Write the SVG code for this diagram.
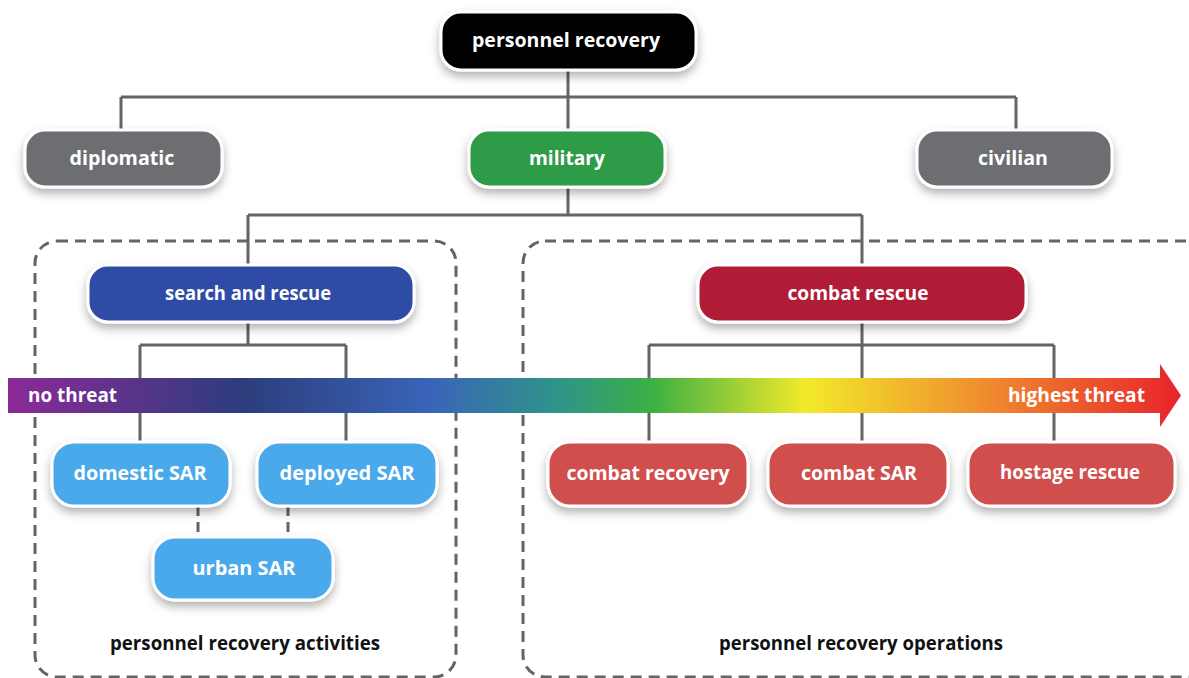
<svg xmlns="http://www.w3.org/2000/svg" width="1189" height="678" viewBox="0 0 1189 678">
  <defs>
    <filter id="shadow" x="-20%" y="-30%" width="140%" height="180%">
      <feDropShadow dx="0" dy="5" stdDeviation="5" flood-color="#000" flood-opacity="0.3"/>
    </filter>
    <linearGradient id="threat" x1="8" y1="0" x2="1180" y2="0" gradientUnits="userSpaceOnUse">
      <stop offset="0" stop-color="#8c2a98"/>
      <stop offset="0.2" stop-color="#2c3d7c"/>
      <stop offset="0.36" stop-color="#3a64b8"/>
      <stop offset="0.47" stop-color="#2f948a"/>
      <stop offset="0.55" stop-color="#3cb043"/>
      <stop offset="0.68" stop-color="#f2ea2a"/>
      <stop offset="0.82" stop-color="#f0952e"/>
      <stop offset="1" stop-color="#e8232b"/>
    </linearGradient>
    <style>
      .node rect { stroke: #fff; stroke-width: 3; filter: url(#shadow); }
      .node text { font-family: "Open Sans", "Liberation Sans", sans-serif; font-weight: bold; font-size: 20px; fill: #fff; text-anchor: middle; }
      .conn { fill: none; stroke: #636466; stroke-width: 3; }
      .dash { fill: none; stroke: #636466; stroke-width: 3; stroke-dasharray: 10 6; }
      .area { fill: none; stroke: #636466; stroke-width: 3; stroke-dasharray: 11 7; }
      .caption { font-family: "Open Sans", "Liberation Sans", sans-serif; font-weight: bold; font-size: 20px; fill: #111; text-anchor: middle; }
      .threat { font-family: "Open Sans", "Liberation Sans", sans-serif; font-weight: bold; font-size: 19px; fill: #fff; }
      .gray { fill: #6d6e71; }
      .navy { fill: #2e4ba6; }
      .crimson { fill: #b01b34; }
      .sky { fill: #4aa9ea; }
      .coral { fill: #d0504e; }
    </style>
  </defs>

  <rect width="1189" height="678" fill="#fff"/>

  <!-- grouping areas -->
  <g id="areas">
    <rect class="area" x="35" y="241" width="421" height="436" rx="22"/>
    <rect class="area" x="523" y="241" width="690" height="436" rx="22"/>
    <text class="caption" x="245" y="650" textLength="270" lengthAdjust="spacingAndGlyphs">personnel recovery activities</text>
    <text class="caption" x="861" y="650" textLength="284" lengthAdjust="spacingAndGlyphs">personnel recovery operations</text>
  </g>

  <!-- connectors -->
  <g id="connectors">
    <path class="conn" d="M568 70 V97 M121 97 H1016 M121 97 V130 M568 97 V130 M1016 97 V130"/>
    <path class="conn" d="M568 187 V215 M248 215 H862 M248 215 V265 M862 215 V265"/>
    <path class="conn" d="M248 322 V345 M140 345 H346 M140 345 V442 M346 345 V442"/>
    <path class="conn" d="M862 322 V345 M649 345 H1054 M649 345 V442 M862 345 V442 M1054 345 V442"/>
    <path class="dash" d="M198 506 V537 M288 506 V537"/>
  </g>

  <!-- threat scale -->
  <g id="threat-scale">
    <path d="M8 378 H1160 V364 L1181 395.5 L1160 427 V413 H8 Z" fill="url(#threat)"/>
    <text class="threat" x="28" y="402" textLength="89" lengthAdjust="spacingAndGlyphs">no threat</text>
    <text class="threat" x="1008" y="402" textLength="137" lengthAdjust="spacingAndGlyphs">highest threat</text>
  </g>

  <g id="personnel-recovery" class="node">
    <rect x="441" y="12" width="255" height="58" rx="20" fill="#000"/>
    <text x="566" y="47" textLength="188" lengthAdjust="spacingAndGlyphs">personnel recovery</text>
  </g>
  <g id="diplomatic" class="node">
    <rect class="gray" x="25" y="130" width="197" height="57" rx="20"/>
    <text x="122" y="165" textLength="105" lengthAdjust="spacingAndGlyphs">diplomatic</text>
  </g>
  <g id="military" class="node">
    <rect x="469" y="130" width="196" height="57" rx="20" fill="#2e9b4a"/>
    <text x="567" y="165" textLength="76" lengthAdjust="spacingAndGlyphs">military</text>
  </g>
  <g id="civilian" class="node">
    <rect class="gray" x="917" y="130" width="195" height="57" rx="20"/>
    <text x="1013" y="165" textLength="70" lengthAdjust="spacingAndGlyphs">civilian</text>
  </g>
  <g id="search-and-rescue" class="node">
    <rect class="navy" x="88" y="265" width="326" height="57" rx="20"/>
    <text x="248" y="300" textLength="166" lengthAdjust="spacingAndGlyphs">search and rescue</text>
  </g>
  <g id="combat-rescue" class="node">
    <rect class="crimson" x="698" y="265" width="328" height="57" rx="20"/>
    <text x="858" y="300" textLength="141" lengthAdjust="spacingAndGlyphs">combat rescue</text>
  </g>
  <g id="domestic-sar" class="node">
    <rect class="sky" x="52" y="442" width="178" height="64" rx="22"/>
    <text x="140" y="480" textLength="133" lengthAdjust="spacingAndGlyphs">domestic SAR</text>
  </g>
  <g id="deployed-sar" class="node">
    <rect class="sky" x="257" y="442" width="180" height="64" rx="22"/>
    <text x="347" y="480" textLength="135" lengthAdjust="spacingAndGlyphs">deployed SAR</text>
  </g>
  <g id="urban-sar" class="node">
    <rect class="sky" x="153" y="537" width="180" height="63" rx="22"/>
    <text x="244" y="575" textLength="103" lengthAdjust="spacingAndGlyphs">urban SAR</text>
  </g>
  <g id="combat-recovery" class="node">
    <rect class="coral" x="548" y="442" width="200" height="64" rx="22"/>
    <text x="648" y="480" textLength="163" lengthAdjust="spacingAndGlyphs">combat recovery</text>
  </g>
  <g id="combat-sar" class="node">
    <rect class="coral" x="768" y="442" width="180" height="64" rx="22"/>
    <text x="859" y="480" textLength="116" lengthAdjust="spacingAndGlyphs">combat SAR</text>
  </g>
  <g id="hostage-rescue" class="node">
    <rect class="coral" x="968" y="442" width="207" height="64" rx="22"/>
    <text x="1070" y="479" textLength="140" lengthAdjust="spacingAndGlyphs">hostage rescue</text>
  </g>
</svg>
